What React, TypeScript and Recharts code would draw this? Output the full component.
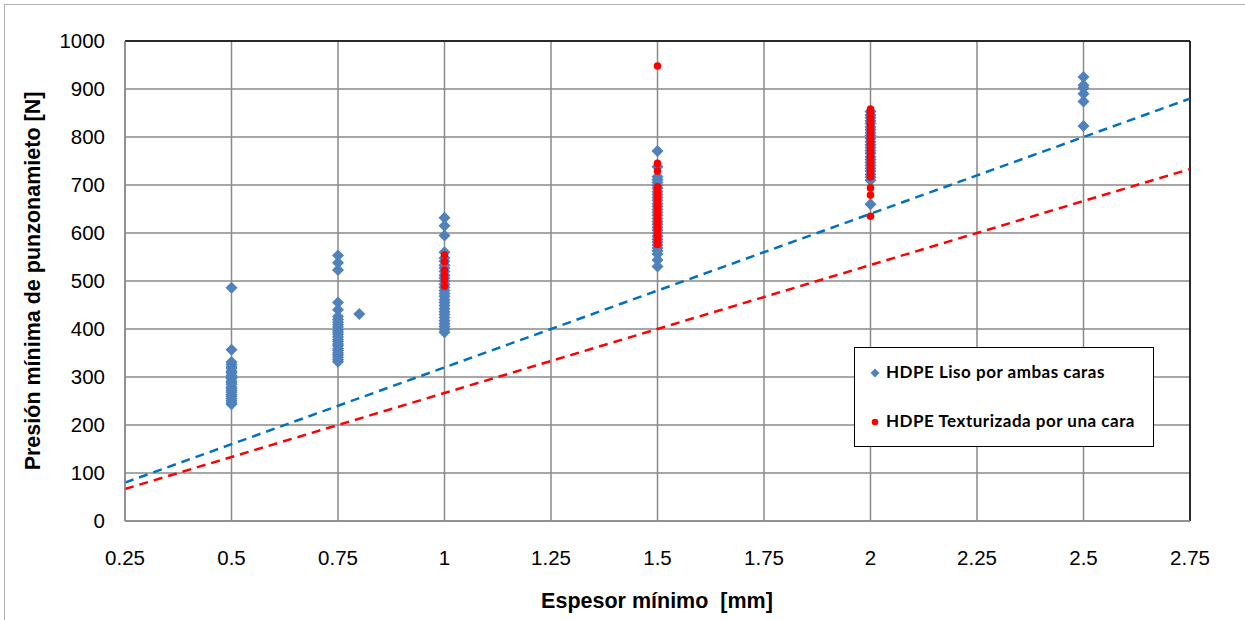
import {
  ComposedChart,
  Scatter,
  XAxis,
  YAxis,
  CartesianGrid,
  ReferenceLine,
  Customized,
} from 'recharts';

// espesor (mm) -> presión (N)
const lisoAt050 = [486, 357, 331, 326, 321, 318, 312, 309, 303, 300, 297, 291, 288, 285, 279, 276, 272, 268, 263, 260, 255, 251, 247, 243];
const lisoAt075 = [553, 538, 523, 455, 440, 426, 420, 414, 409, 404, 398, 393, 389, 384, 378, 374, 369, 365, 359, 355, 350, 346, 341, 336, 332];
const lisoAt080 = [431];
const lisoAt100 = [632, 615, 595, 560, 548, 541, 533, 527, 520, 512, 506, 500, 493, 487, 480, 474, 468, 461, 455, 449, 442, 436, 430, 424, 417, 411, 405, 399, 393];
const lisoAt150 = [771, 738, 717, 711, 705, 699, 693, 686, 680, 674, 668, 661, 655, 649, 643, 637, 630, 624, 618, 612, 606, 600, 593, 587, 581, 575, 569, 563, 556, 544, 530];
const lisoAt200 = [853, 846, 840, 834, 828, 821, 815, 809, 803, 797, 790, 784, 778, 772, 766, 759, 753, 747, 741, 735, 729, 722, 716, 710, 660];
const lisoAt250 = [925, 908, 902, 890, 874, 823];

const textAt100 = [554, 540, 523, 512, 502, 489];
const textAt150 = [948, 745, 729, 696, 691, 684, 677, 672, 665, 659, 654, 647, 641, 636, 629, 623, 618, 611, 606, 599, 594, 588, 581, 576];
const textAt200 = [858, 852, 847, 841, 835, 830, 824, 818, 812, 807, 800, 795, 789, 783, 777, 771, 766, 759, 753, 748, 741, 735, 729, 723, 717, 694, 679, 635];

const trendLiso = [{ x: 0.25, y: 80 }, { x: 2.75, y: 880 }];
const trendText = [{ x: 0.25, y: 66.7 }, { x: 2.75, y: 733.3 }];

const xTicks = [0.25, 0.5, 0.75, 1, 1.25, 1.5, 1.75, 2, 2.25, 2.5, 2.75];
const yTicks = [0, 100, 200, 300, 400, 500, 600, 700, 800, 900, 1000];

const toPoints = (x: number, ys: number[]) => ys.map((y) => ({ x, y }));

const lisoData = [
  ...toPoints(0.5, lisoAt050),
  ...toPoints(0.75, lisoAt075),
  ...toPoints(0.8, lisoAt080),
  ...toPoints(1, lisoAt100),
  ...toPoints(1.5, lisoAt150),
  ...toPoints(2, lisoAt200),
  ...toPoints(2.5, lisoAt250),
];

const textData = [
  ...toPoints(1, textAt100),
  ...toPoints(1.5, textAt150),
  ...toPoints(2, textAt200),
];

const BLUE = '#4f81bd';
const RED = '#ff0000';
const GRID = '#8a8a8a';
const FONT = '"Liberation Sans", Arial, sans-serif';
const tickStyle = { fill: '#000', fontSize: 20.5, fontFamily: FONT };

const Diamond = (props: any) => {
  const { cx, cy } = props;
  const h = 6;
  return <path d={`M${cx},${cy - h}L${cx + h},${cy}L${cx},${cy + h}L${cx - h},${cy}Z`} fill={BLUE} />;
};

const Dot = (props: any) => <circle cx={props.cx} cy={props.cy} r={3.8} fill={RED} />;

const LegendBox = () => (
  <div
    style={{
      position: 'absolute',
      left: 854,
      top: 347,
      width: 298,
      height: 98,
      border: '1px solid #000',
      background: '#fff',
      fontFamily: 'Lato, "Noto Sans", sans-serif',
      fontWeight: 700,
      fontSize: 17,
      letterSpacing: 0.5,
      color: '#000',
      whiteSpace: 'nowrap',
    }}
  >
    <svg width={12} height={12} style={{ position: 'absolute', left: 14, top: 19 }}>
      <path d="M6,1.5L10.5,6L6,10.5L1.5,6Z" fill={BLUE} />
    </svg>
    <span style={{ position: 'absolute', left: 31, top: 13 }}>HDPE Liso por ambas caras</span>
    <svg width={12} height={12} style={{ position: 'absolute', left: 14, top: 68 }}>
      <circle cx={6} cy={6} r={3.3} fill={RED} />
    </svg>
    <span style={{ position: 'absolute', left: 31, top: 62 }}>HDPE Texturizada por una cara</span>
  </div>
);

const Titles = () => (
  <g fontFamily={FONT} fontWeight={700} fontSize={21.5} fill="#000">
    <text x={40} y={281} textAnchor="middle" transform="rotate(-90 40 281)">
      Presión mínima de punzonamieto [N]
    </text>
    <text x={657} y={608} textAnchor="middle">
      {'Espesor mínimo\u00a0 [mm]'}
    </text>
  </g>
);

export default function App() {
  return (
    <div style={{ position: 'absolute', left: 0, top: 0, width: 1245, height: 620, overflow: 'hidden', background: '#fff' }}>
      <div
        style={{
          position: 'absolute',
          left: 4,
          top: 4,
          width: 1260,
          height: 640,
          border: '1px solid #b0b0b0',
        }}
      />
      <ComposedChart
        width={1245}
        height={620}
        margin={{ top: 41, right: 55, bottom: 0, left: 0 }}
        style={{ position: 'absolute', left: 0, top: 0 }}
      >
        <CartesianGrid stroke={GRID} strokeWidth={1.5} horizontalValues={yTicks} verticalValues={xTicks} />
        <XAxis
          type="number"
          dataKey="x"
          domain={[0.25, 2.75]}
          ticks={xTicks}
          interval={0}
          height={99}
          tick={tickStyle}
          tickLine={false}
          tickSize={0}
          tickMargin={29}
          axisLine={{ stroke: GRID, strokeWidth: 1.5 }}
          allowDataOverflow
        />
        <YAxis
          type="number"
          dataKey="y"
          domain={[0, 1000]}
          ticks={yTicks}
          interval={0}
          width={125}
          tick={tickStyle}
          tickLine={false}
          tickSize={0}
          tickMargin={20}
          axisLine={{ stroke: GRID, strokeWidth: 1.5 }}
          allowDataOverflow
        />
        <ReferenceLine y={1000} stroke="#000" strokeWidth={1.5} />
        <ReferenceLine x={2.75} stroke="#000" strokeWidth={1.5} />
        <Scatter name="HDPE Liso por ambas caras" data={lisoData} shape={Diamond} isAnimationActive={false} />
        <Scatter name="HDPE Texturizada por una cara" data={textData} shape={Dot} isAnimationActive={false} />
        <ReferenceLine segment={trendLiso} stroke="#0070c0" strokeWidth={2.5} strokeDasharray="9 6" />
        <ReferenceLine segment={trendText} stroke={RED} strokeWidth={2.5} strokeDasharray="9 6" />
        <Customized component={Titles} />
      </ComposedChart>
      <LegendBox />
    </div>
  );
}
